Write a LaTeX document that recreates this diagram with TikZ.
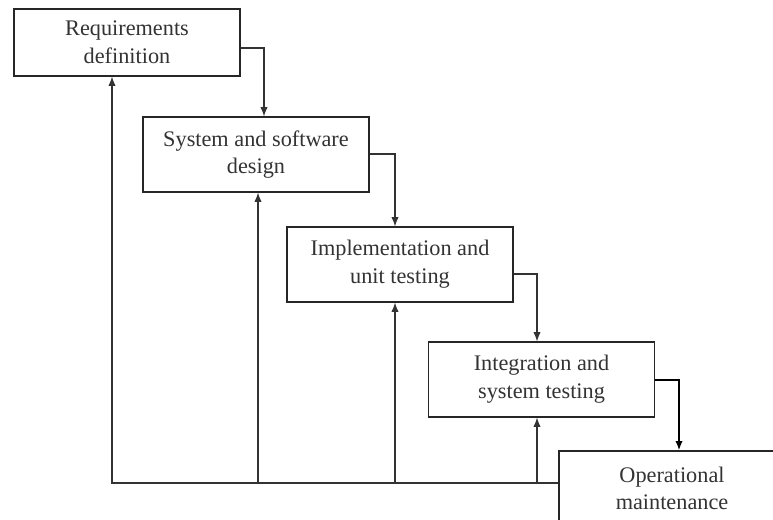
\documentclass[tikz,border=0pt]{standalone}
\usepackage{fontspec}
\setmainfont{Liberation Serif}
\usetikzlibrary{arrows.meta}
\begin{document}
\begin{tikzpicture}[>={Latex[length=7pt,width=5.5pt]}, x=0.75pt, y=-0.75pt,
  stage/.style={draw=black!85, fill=white, line width=0.9pt, minimum width=169.5pt, minimum height=56.25pt,
    align=center, text=black!80, font=\fontsize{16.7}{20.8}\selectfont},
  flow/.style={->, draw=black!80, line width=0.8pt}]
\useasboundingbox (0,0) rectangle (773,520);

\node [stage, minimum height=50.25pt] (req) at (127,42.5) {Requirements\\definition};
\node [stage] (des) at (256,154.5) {System and software\\design};
\node [stage] (imp) at (400,264.5) {Implementation and\\unit testing};
\node [stage] (int) at (541.5,379.5) {Integration and\\system testing};
\node [stage] (ops) at (672,488.5) {Operational\\maintenance};

% down the steps
\coordinate (a1) at (264,48);
\coordinate (a2) at (395,154);
\coordinate (a3) at (537,274);
\coordinate (a4) at (679,380);
\draw [flow](a1 -| req.east) -| (a1 |- des.north);
\draw [flow](a2 -| des.east) -| (a2 |- imp.north);
\draw [flow](a3 -| imp.east) -| (a3 |- int.north);
\draw [flow, draw=black, line width=1.3pt](a4 -| int.east) -| (a4 |- ops.north);

% back up
\coordinate (f1) at (112,483);
\coordinate (f2) at (258,483);
\coordinate (f3) at (395,483);
\coordinate (f4) at (537,483);
\draw [flow](f1 -| ops.west) -- (f1) -- (f1 |- req.south);
\foreach \c/\n in {f2/des, f3/imp, f4/int}
  \draw [flow](\c) -- (\c |- \n.south);

\end{tikzpicture}
\end{document}
